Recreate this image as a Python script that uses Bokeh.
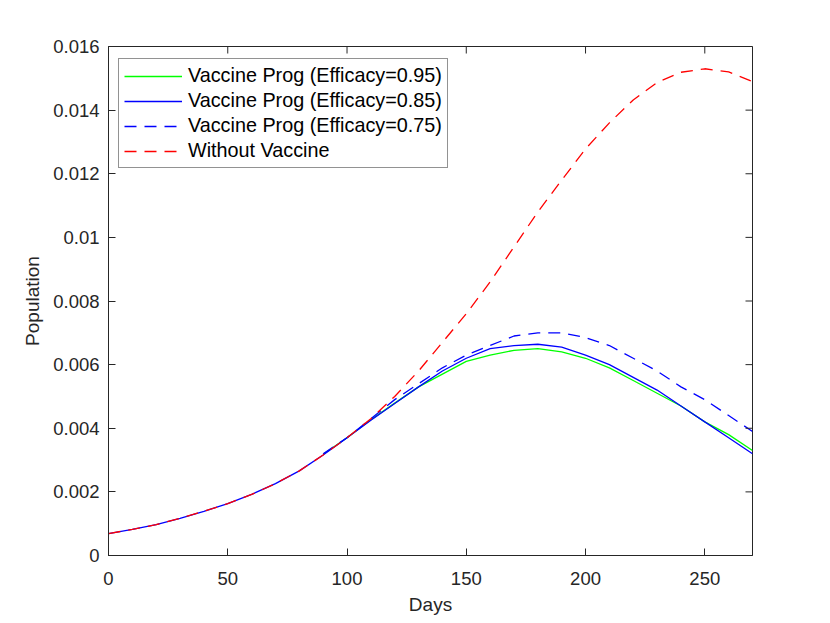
from math import pi
from bokeh.plotting import figure
from bokeh.models import Range1d, FixedTicker
from bokeh.embed import file_html
from bokeh.resources import INLINE

# ---- data ----
days_full = [0, 10, 20, 30, 40, 50, 60, 70, 80, 90, 100, 110, 120, 130, 140, 150, 160,
             170, 180, 190, 200, 210, 220, 230, 240, 250, 260, 270]
days_vac = [90, 100, 110, 120, 130, 140, 150, 160, 170, 180, 190, 200, 210, 220, 230,
            240, 250, 260, 270]

early = [0.00069, 0.00082, 0.00097, 0.00117, 0.00139, 0.00163, 0.00192, 0.00226, 0.00266]

eff95 = [0.00318, 0.0037, 0.00427, 0.00479, 0.0053, 0.0057, 0.0061, 0.0063, 0.00645, 0.0065,
         0.0064, 0.0062, 0.0059, 0.0055, 0.0051, 0.0047, 0.0042, 0.0038, 0.0033]
eff85 = early + [0.00316, 0.0037, 0.00425, 0.00478, 0.0053, 0.0058, 0.0062, 0.0065, 0.0066,
                 0.00664, 0.00655, 0.0063, 0.0060, 0.0056, 0.0052, 0.0047, 0.0042, 0.0037,
                 0.0032]
eff75 = [0.0032, 0.0037, 0.0043, 0.0049, 0.0054, 0.0059, 0.0063, 0.0066, 0.0069, 0.0070,
         0.0070, 0.00685, 0.0066, 0.0062, 0.0058, 0.0053, 0.0049, 0.0044, 0.0039]
novax = early + [0.00316, 0.0037, 0.0043, 0.0050, 0.0058, 0.0067, 0.0076, 0.0086, 0.0097,
                 0.0108, 0.0118, 0.01278, 0.0136, 0.01432, 0.01487, 0.01519, 0.0153, 0.0152,
                 0.0149]

x_ticks = [0, 50, 100, 150, 200, 250]
y_ticks = [0, 0.002, 0.004, 0.006, 0.008, 0.01, 0.012, 0.014, 0.016]
y_tick_labels = ["0", "0.002", "0.004", "0.006", "0.008", "0.01", "0.012", "0.014", "0.016"]
x_max = 270
y_max = 0.016

FONT = "Liberation Sans"
AX = "#262626"

p = figure(width=822, height=617, output_backend="svg", toolbar_location=None,
           x_range=Range1d(0, x_max), y_range=Range1d(0, y_max),
           min_border_left=108, min_border_right=70, min_border_top=46,
           min_border_bottom=62)
p.grid.visible = False
p.outline_line_color = AX
p.background_fill_color = "white"
p.border_fill_color = "white"

p.line(days_vac, eff95, color="#00ff00", line_width=1.3,
       legend_label="Vaccine Prog (Efficacy=0.95)")
p.line(days_full, eff85, color="#0000ff", line_width=1.3,
       legend_label="Vaccine Prog (Efficacy=0.85)")
p.line(days_vac, eff75, color="#0000ff", line_width=1.3, line_dash="12 8",
       legend_label="Vaccine Prog (Efficacy=0.75)")
p.line(days_full, novax, color="#ff0000", line_width=1.3, line_dash="12 8",
       legend_label="Without Vaccine")

# inward ticks on the top and right edges (box axes); clipped to the frame
p.scatter(x_ticks, [y_max] * len(x_ticks), marker="dash", size=14, angle=pi / 2,
          line_color=AX, line_width=1)
p.scatter([x_max] * len(y_ticks), y_ticks, marker="dash", size=14,
          line_color=AX, line_width=1)

xa = p.xaxis[0]
ya = p.yaxis[0]
for ax, ticks in ((xa, x_ticks), (ya, y_ticks)):
    ax.ticker = FixedTicker(ticks=ticks)
    ax.minor_tick_line_color = None
    ax.major_tick_in = 7
    ax.major_tick_out = 0
    ax.axis_line_color = AX
    ax.major_tick_line_color = AX
    ax.major_label_text_font = FONT
    ax.major_label_text_color = AX
    ax.major_label_text_font_size = "18.5px"
    ax.axis_label_text_font = FONT
    ax.axis_label_text_color = AX
    ax.axis_label_text_font_style = "normal"
    ax.axis_label_text_font_size = "19px"

xa.axis_label = "Days"
ya.axis_label = "Population"
xa.major_label_standoff = 16
xa.axis_label_standoff = 6
ya.major_label_standoff = 9
ya.axis_label_standoff = 7
ya.major_label_overrides = {t: l for t, l in zip(y_ticks, y_tick_labels)}

lg = p.legend[0]
lg.location = (10, 387)
lg.padding = 5
lg.spacing = 2
lg.glyph_width = 58
lg.glyph_height = 22
lg.label_height = 22
lg.label_standoff = 6
lg.label_text_font = FONT
lg.label_text_font_size = "19.8px"
lg.label_text_color = "#000000"
lg.border_line_color = AX
lg.border_line_width = 1
lg.background_fill_color = "white"
lg.background_fill_alpha = 1.0

open("out.html", "w").write(file_html(p, INLINE))
